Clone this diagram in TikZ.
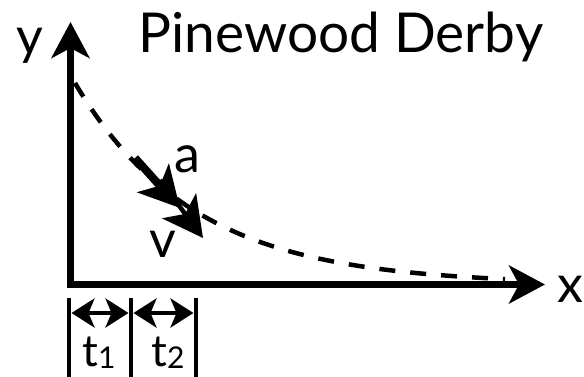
\documentclass[tikz,border=0pt]{standalone}
\usepackage{fontspec}
\setmainfont{Lato}
\usetikzlibrary{arrows.meta}
\tikzset{
  axisline/.style={line width=7pt, line join=miter,
    {Stealth[length=36pt,width=38pt,inset=10pt]}-{Stealth[length=36pt,width=38pt,inset=10pt]}},
  curve/.style={line width=4.5pt, dash pattern=on 16pt off 15pt},
  avec/.style={line width=8pt, -{Stealth[length=40pt,width=42pt,inset=10pt]}},
  vvec/.style={line width=4.5pt, -{Stealth[length=40pt,width=42pt,inset=10pt]}},
  bar/.style={line width=4.5pt},
  span/.style={line width=4pt, {Stealth[length=23pt,width=29pt,inset=6pt]}-{Stealth[length=23pt,width=29pt,inset=6pt]}},
  lab/.style={inner sep=0pt, anchor=base, font=\fontsize{52}{52}\selectfont},
  ttl/.style={inner sep=0pt, anchor=base, font=\fontsize{55}{55}\selectfont},
  tlab/.style={inner sep=0pt, anchor=base, font=\fontsize{44}{44}\selectfont},
}
\newcommand{\subdig}[1]{{\fontsize{30}{30}\selectfont\raisebox{-2pt}{#1}}}
\begin{document}
\begin{tikzpicture}[x=1pt,y=-1pt]
\useasboundingbox (0,0) rectangle (584,377);
% axes
\coordinate (O) at (70.5,284.5);
\coordinate (ytip) at (70.5,22);
\coordinate (xtip) at (545,284.5);
\draw[curve] plot[domain=75:505, samples=100, smooth] (\x, {284.5-206.6*exp(-(\x-72)/119)});
\draw[axisline] (ytip) -- (O) -- (xtip);
% vectors
\coordinate (as) at (135,158);
\coordinate (ae) at (180,208);
\coordinate (vs) at (160,180);
\coordinate (ve) at (203,238);
\draw[vvec] (vs) -- (ve);
\draw[avec] (as) -- (ae);
% labels
\node[lab] (ylab) at (29.5,55) {y};
\node[lab] (xlab) at (570.5,302) {x};
\node[lab] (alab) at (187.5,173) {a};
\node[lab] (vlab) at (162.5,257) {v};
\node[ttl] (title) at (341,53) {Pinewood Derby};
% time intervals
\coordinate (b1t) at (69,298); \coordinate (b1b) at (69,377);
\coordinate (b2t) at (131,298); \coordinate (b2b) at (131,377);
\coordinate (b3t) at (196,298); \coordinate (b3b) at (196,377);
\draw[bar] (b1t) -- (b1b);
\draw[bar] (b2t) -- (b2b);
\draw[bar] (b3t) -- (b3b);
\coordinate (s1a) at (71.5,313); \coordinate (s1b) at (128.5,313);
\coordinate (s2a) at (133.5,313); \coordinate (s2b) at (193.5,313);
\draw[span] (s1a) -- (s1b);
\draw[span] (s2a) -- (s2b);
\node[tlab] (t1) at (99,366) {t\subdig{1}};
\node[tlab] (t2) at (168,366) {t\subdig{2}};
\end{tikzpicture}
\end{document}
